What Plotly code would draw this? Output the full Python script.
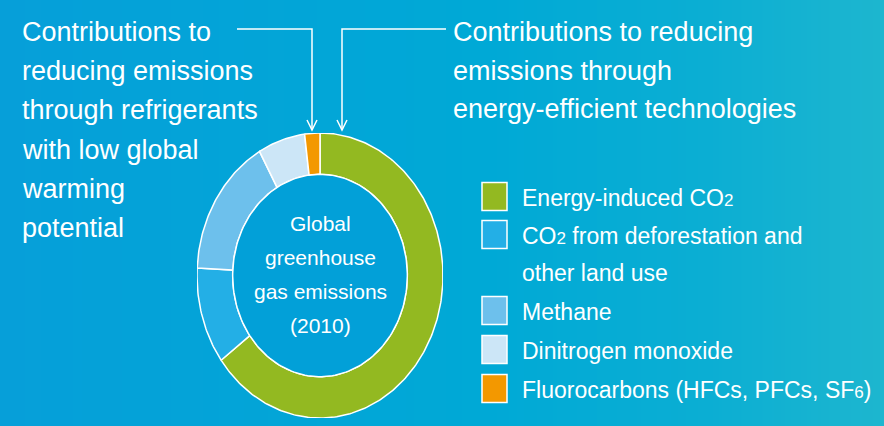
import numpy as np
import plotly.graph_objects as go

# Global greenhouse gas emissions 2010, shares in %, clockwise from 12 o'clock
gases = ["Energy-induced CO2", "CO2 from deforestation and other land use",
         "Methane", "Dinitrogen monoxide", "Fluorocarbons (HFCs, PFCs, SF6)"]
shares = [65, 11, 16, 6.2, 2.0]
colors = ["#93b921", "#23afe6", "#6dc0ec", "#cce6f7", "#f39800"]

# legend text, one list per entry (an entry can wrap onto two lines)
sub = '<span style="font-size:17px">{}</span>'
legend_text = [
    ["Energy-induced CO" + sub.format("2")],
    ["CO" + sub.format("2") + " from deforestation and", "other land use"],
    ["Methane"],
    ["Dinitrogen monoxide"],
    ["Fluorocarbons (HFCs, PFCs, SF" + sub.format("6") + ")"],
]

left_note = ["Contributions to", "reducing emissions", "through refrigerants",
             "with low global", "warming", "potential"]
right_note = ["Contributions to reducing", "emissions through",
              "energy-efficient technologies"]
center_text = ["Global", "greenhouse", "gas emissions", "(2010)"]

W, H = 884, 426
FONT = "Liberation Sans, Arial, sans-serif"
HOLE = 0.71

fig = go.Figure()

# background gradient (full-figure axes, 1 unit = 1 px)
fig.add_trace(go.Heatmap(
    z=[[0, 0.5, 1], [0, 0.5, 1]], x=[0, W / 2, W], y=[0, H],
    zsmooth="best", showscale=False, hoverinfo="skip",
    colorscale=[[0, "#069fd9"], [0.55, "#00a9d6"], [0.8, "#0baed3"], [1, "#1db6cf"]],
    xaxis="x", yaxis="y"))

# donut ring built from the shares, drawn on its own unit axes
total = sum(shares)
start = 0.0
for name, val, col in zip(gases, shares, colors):
    a0 = start / total * 2 * np.pi
    a1 = (start + val) / total * 2 * np.pi
    start += val
    t = np.linspace(a0, a1, max(4, int(val * 4)))
    xs = np.concatenate([np.sin(t), HOLE * np.sin(t[::-1])])
    ys = np.concatenate([np.cos(t), HOLE * np.cos(t[::-1])])
    fig.add_trace(go.Scatter(
        x=np.append(xs, xs[0]), y=np.append(ys, ys[0]), mode="lines",
        fill="toself", fillcolor=col, line=dict(color="white", width=1.5),
        name=name, hoverinfo="name", xaxis="x2", yaxis="y2"))

# inner disc
t = np.linspace(0, 2 * np.pi, 200)
fig.add_trace(go.Scatter(
    x=HOLE * np.sin(t), y=HOLE * np.cos(t), mode="lines", fill="toself",
    fillcolor="#02a0d8", line=dict(color="white", width=1.5),
    hoverinfo="skip", xaxis="x2", yaxis="y2"))

shapes = []
annotations = []

def label(x, y, text, size, anchor="left"):
    annotations.append(dict(x=x, y=y, xref="x", yref="y", text=text, showarrow=False,
                            xanchor=anchor, yanchor="middle",
                            font=dict(family=FONT, size=size, color="white")))

for i, line in enumerate(left_note):
    label(20, 32 + i * 39.2, line, 27)
for i, line in enumerate(right_note):
    label(451, 32 + i * 38.5, line, 27)
for i, line in enumerate(center_text):
    label(320, 223 + i * 34, line, 21, anchor="center")

# legend: squares and text
box_y = [196.5, 234.5, 310.5, 349.5, 388.5]
for col, lines, yc in zip(colors, legend_text, box_y):
    shapes.append(dict(type="rect", xref="x", yref="y", x0=482, x1=507,
                       y0=yc - 14, y1=yc + 14, fillcolor=col,
                       line=dict(color="white", width=1.5)))
    for j, line in enumerate(lines):
        label(520, yc + 1 + j * 37, line, 23)

# leader lines with open arrowheads
for x_start, x_tip in [(237, 312), (446, 342)]:
    shapes.append(dict(type="path", xref="x", yref="y",
                       path=f"M {x_start},29 L {x_tip},29 L {x_tip},130",
                       line=dict(color="white", width=1.5)))
    shapes.append(dict(type="path", xref="x", yref="y",
                       path=f"M {x_tip - 5},120 L {x_tip},130 L {x_tip + 5},120",
                       line=dict(color="white", width=1.5)))

fig.update_layout(
    width=W, height=H, margin=dict(l=0, r=0, t=0, b=0, pad=0),
    showlegend=False, plot_bgcolor="rgba(0,0,0,0)", paper_bgcolor="#00a9d6",
    xaxis=dict(range=[0, W], domain=[0, 1], visible=False, fixedrange=True),
    yaxis=dict(range=[H, 0], domain=[0, 1], visible=False, fixedrange=True),
    xaxis2=dict(range=[-1, 1], domain=[197 / W, 443 / W], visible=False,
                fixedrange=True, anchor="y2"),
    yaxis2=dict(range=[-1, 1], domain=[1 - 418 / H, 1 - 133 / H], visible=False,
                fixedrange=True, anchor="x2"),
    shapes=shapes, annotations=annotations,
)

# drop the browser's default page margin so the chart fills the window
fig.write_html("out.html", config={"displayModeBar": False},
               post_script="document.body.style.margin = '0px';")
